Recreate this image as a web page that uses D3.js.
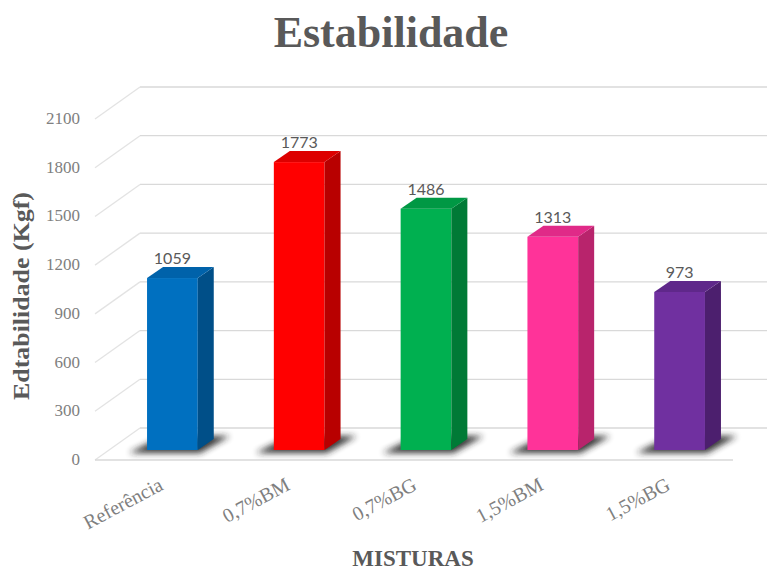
<!DOCTYPE html>
<html>
<head>
<meta charset="utf-8">
<script src="https://cdn.jsdelivr.net/npm/d3@7/dist/d3.min.js"></script>
<style>
  body { margin: 0; background: #fff; }
  svg { display: block; }
</style>
</head>
<body>
<div class="chart"></div>
<script>
const categories = ['Referência', '0,7%BM', '0,7%BG', '1,5%BM', '1,5%BG'];
const values = [1059, 1773, 1486, 1313, 973];
const yTicks = [0, 300, 600, 900, 1200, 1500, 1800, 2100];

const palette = [
    { front: '#0070c0', side: '#004f88', top: '#0062aa' },
    { front: '#ff0000', side: '#b80000', top: '#dd0000' },
    { front: '#00b050', side: '#007a36', top: '#009844' },
    { front: '#ff3399', side: '#b8246c', top: '#e02a88' },
    { front: '#7030a0', side: '#4c1f6e', top: '#5f288a' },
];

const W = 767;
const H = 570;
const serif = '"Liberation Serif", "Times New Roman", serif';

// back wall and depth offsets of the fake 3d box
const wallX0 = 140;
const wallX1 = 767;
const front = { dx: -45, dy: 32 };
const barPlane = { dx: -31, dy: 22 };
const barDepth = { dx: 16, dy: -11 };

const svg = d3.select('.chart').append('svg').attr('width', W).attr('height', H);

const y = d3.scaleLinear().domain([0, 2100]).range([428, 87]);
const x = d3
    .scaleBand()
    .domain(categories)
    .range([109, 743])
    .paddingInner(0.6)
    .paddingOuter(0.3);

const defs = svg.append('defs');
defs.append('filter')
    .attr('id', 'blur')
    .attr('x', '-30%')
    .attr('y', '-100%')
    .attr('width', '160%')
    .attr('height', '300%')
    .append('feGaussianBlur')
    .attr('stdDeviation', 3);

// title
svg.append('text')
    .attr('x', 391)
    .attr('y', 47)
    .attr('text-anchor', 'middle')
    .style('font-family', serif)
    .style('font-weight', 'bold')
    .style('font-size', '44px')
    .style('fill', '#595959')
    .text('Estabilidade');

// gridlines on the back wall
const grid = svg.append('g');
grid.selectAll('.hline')
    .data(yTicks)
    .enter()
    .append('line')
    .attr('x1', wallX0)
    .attr('x2', wallX1)
    .attr('y1', (d) => y(d))
    .attr('y2', (d) => y(d))
    .style('stroke', '#d9d9d9')
    .style('stroke-width', 1.3);

// diagonals on the left side wall
grid.selectAll('.dline')
    .data(yTicks)
    .enter()
    .append('line')
    .attr('x1', wallX0 + front.dx)
    .attr('y1', (d) => y(d) + front.dy)
    .attr('x2', wallX0)
    .attr('y2', (d) => y(d))
    .style('stroke', '#e3e3e3')
    .style('stroke-width', 1.3);

// floor front edge
grid.append('line')
    .attr('x1', wallX0 + front.dx)
    .attr('x2', 733)
    .attr('y1', y(0) + front.dy)
    .attr('y2', y(0) + front.dy)
    .style('stroke', '#d9d9d9')
    .style('stroke-width', 1.5);

// y tick labels
svg.append('g')
    .selectAll('text')
    .data(yTicks)
    .enter()
    .append('text')
    .attr('x', 80)
    .attr('y', (d) => y(d) + front.dy - 1)
    .attr('dy', '0.35em')
    .attr('text-anchor', 'end')
    .style('font-family', serif)
    .style('font-size', '17px')
    .style('fill', '#808080')
    .text((d) => d);

// bars
const bars = svg.append('g')
    .selectAll('.bar')
    .data(values)
    .enter()
    .append('g')
    .attr('class', 'bar');

const fx0 = (d, i) => x(categories[i]);
const fx1 = (d, i) => x(categories[i]) + x.bandwidth();
const fyTop = (d) => y(d) + barPlane.dy;
const fyBase = y(0) + barPlane.dy;

bars.append('polygon')
    .attr('points', (d, i) => {
        const a = fx0(d, i);
        const b = fx1(d, i);
        return [
            [a - 18, fyBase + 3],
            [b + 2, fyBase + 3],
            [b + barDepth.dx + 16, fyBase + barDepth.dy - 3],
            [a + barDepth.dx, fyBase + barDepth.dy - 3],
        ].join(' ');
    })
    .attr('filter', 'url(#blur)')
    .style('fill', '#222')
    .style('opacity', 0.9);

bars.append('rect')
    .attr('x', fx0)
    .attr('y', fyTop)
    .attr('width', x.bandwidth())
    .attr('height', (d) => fyBase - fyTop(d))
    .style('fill', (d, i) => palette[i].front);

bars.append('polygon')
    .attr('points', (d, i) => {
        const b = fx1(d, i);
        return [
            [b, fyTop(d)],
            [b + barDepth.dx, fyTop(d) + barDepth.dy],
            [b + barDepth.dx, fyBase + barDepth.dy],
            [b, fyBase],
        ].join(' ');
    })
    .style('fill', (d, i) => palette[i].side);

bars.append('polygon')
    .attr('points', (d, i) => {
        const a = fx0(d, i);
        const b = fx1(d, i);
        const t = fyTop(d);
        return [
            [a, t],
            [b, t],
            [b + barDepth.dx, t + barDepth.dy],
            [a + barDepth.dx, t + barDepth.dy],
        ].join(' ');
    })
    .style('fill', (d, i) => palette[i].top);

bars.append('text')
    .attr('x', (d, i) => x(categories[i]) + x.bandwidth() / 2)
    .attr('y', (d) => fyTop(d) + barDepth.dy - 3)
    .attr('text-anchor', 'middle')
    .style('font-family', 'Lato, "Open Sans", sans-serif')
    .style('font-size', '16px')
    .style('fill', '#595959')
    .text((d) => d);

// category labels
svg.append('g')
    .selectAll('text')
    .data(categories)
    .enter()
    .append('text')
    .attr('transform', (d) => `translate(${x(d) + x.bandwidth() / 2 - 8},${489}) rotate(-28)`)
    .attr('text-anchor', 'end')
    .style('font-family', serif)
    .style('font-size', '20px')
    .style('fill', '#7f7f7f')
    .text((d) => d);

// axis titles
svg.append('text')
    .attr('transform', 'translate(29,296) rotate(-90)')
    .attr('text-anchor', 'middle')
    .attr('textLength', 208)
    .attr('lengthAdjust', 'spacingAndGlyphs')
    .style('font-family', serif)
    .style('font-weight', 'bold')
    .style('font-size', '23px')
    .style('fill', '#595959')
    .text('Edtabilidade (Kgf)');

svg.append('text')
    .attr('x', 413)
    .attr('y', 566)
    .attr('text-anchor', 'middle')
    .style('font-family', serif)
    .style('font-weight', 'bold')
    .style('font-size', '23px')
    .style('fill', '#595959')
    .text('MISTURAS');
</script>
</body>
</html>
